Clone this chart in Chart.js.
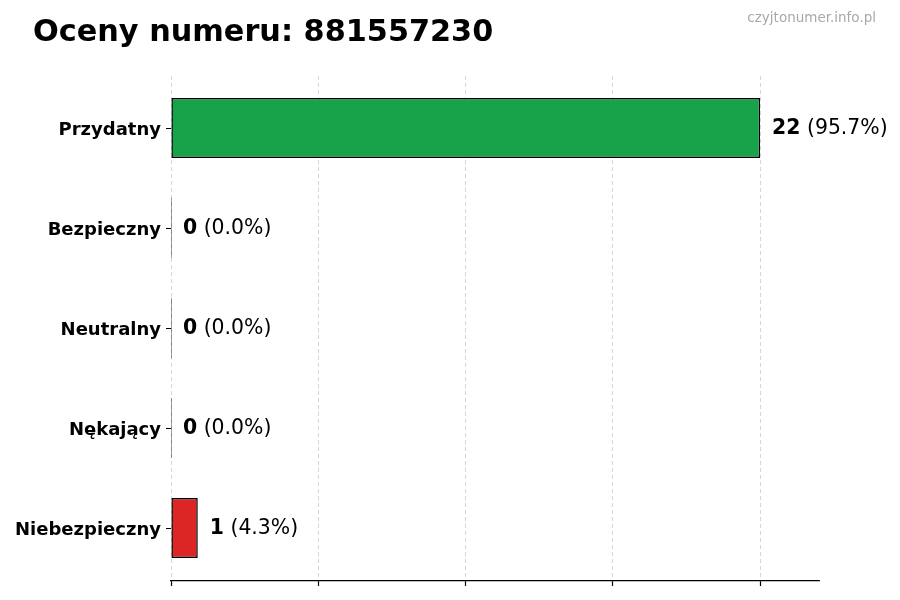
<!DOCTYPE html>
<html>
<head>
<meta charset="utf-8">
<script src="https://cdn.jsdelivr.net/npm/chart.js@4"></script>
<style>
  html, body { margin: 0; padding: 0; background: #fff; }
  #wrap { width: 900px; height: 600px; }
</style>
</head>
<body>
<div id="wrap"><canvas id="chart"></canvas></div>
<script>
// data
var categories = ["Przydatny", "Bezpieczny", "Neutralny", "Nękający", "Niebezpieczny"];
var counts = [22, 0, 0, 0, 1];
var percentLabels = ["95.7%", "0.0%", "0.0%", "0.0%", "4.3%"];
var barColors = ["#16a34a", "#6b7280", "#9ca3af", "#f59e0b", "#dc2626"];
var xTicks = [0, 5.5, 11, 16.5, 22];
var titleText = "Oceny numeru: 881557230";
var sourceText = "czyjtonumer.info.pl";

var FONT = "'DejaVu Sans', sans-serif";

// title + watermark in the top strip
var headerPlugin = {
  id: 'header',
  afterDraw: function(chart) {
    var ctx = chart.ctx;
    ctx.save();
    ctx.fillStyle = '#000';
    ctx.font = "bold 30.3px " + FONT;
    ctx.textAlign = 'left';
    ctx.textBaseline = 'alphabetic';
    ctx.fillText(titleText, 33, 41);
    ctx.fillStyle = '#a8a8a8';
    ctx.font = "13.5px " + FONT;
    ctx.textAlign = 'right';
    ctx.fillText(sourceText, 876, 22);
    ctx.restore();
  }
};

// "22 (95.7%)" next to every bar
var valueLabels = {
  id: 'valueLabels',
  afterDatasetsDraw: function(chart) {
    var ctx = chart.ctx;
    var xs = chart.scales.x, ys = chart.scales.y;
    ctx.save();
    ctx.fillStyle = '#000';
    ctx.textBaseline = 'middle';
    ctx.textAlign = 'left';
    for (var i = 0; i < counts.length; i++) {
      var x = xs.getPixelForValue(counts[i]) + 12;
      var y = ys.getPixelForValue(i) + 1;
      ctx.font = "bold 20.4px " + FONT;
      var num = String(counts[i]);
      ctx.fillText(num, x, y);
      var w = ctx.measureText(num).width;
      ctx.font = "20.4px " + FONT;
      ctx.fillText(" (" + percentLabels[i] + ")", x + w, y);
    }
    ctx.restore();
  }
};

var chart = new Chart(document.getElementById('chart'), {
  type: 'bar',
  data: {
    labels: categories,
    datasets: [{
      data: counts,
      backgroundColor: barColors,
      borderColor: '#000',
      borderWidth: 1.5,
      borderSkipped: false,
      minBarLength: 1,
      barPercentage: 0.6,
      categoryPercentage: 1.0
    }]
  },
  options: {
    indexAxis: 'y',
    responsive: true,
    maintainAspectRatio: false,
    animation: false,
    layout: { padding: { top: 76, right: 81, bottom: 14, left: 15 } },
    plugins: {
      legend: { display: false },
      tooltip: { enabled: false }
    },
    scales: {
      x: {
        min: 0,
        max: 24.2,
        ticks: { display: false },
        afterBuildTicks: function(scale) {
          scale.ticks = xTicks.map(function(v) { return { value: v }; });
        },
        grid: {
          color: '#cccccc',
          lineWidth: 0.8,
          drawTicks: true,
          tickLength: 5,
          tickColor: '#000',
          tickWidth: 1.2
        },
        border: { display: true, color: '#000', width: 1.2, dash: [4, 3] }
      },
      y: {
        afterFit: function(scale) { scale.width = 156; },
        // a bit more room below the last bar than the default half band
        afterUpdate: function(scale) {
          scale._startValue = -0.52;
          scale._valueRange = 5.05;
        },
        ticks: {
          color: '#000',
          padding: 5,
          labelOffset: 2,
          font: { family: FONT, size: 18, weight: 'bold' }
        },
        grid: {
          offset: false,
          drawOnChartArea: false,
          drawTicks: true,
          tickLength: 5,
          tickColor: '#000',
          tickWidth: 1
        },
        border: { display: false }
      }
    }
  },
  plugins: [headerPlugin, valueLabels]
});
</script>
</body>
</html>
